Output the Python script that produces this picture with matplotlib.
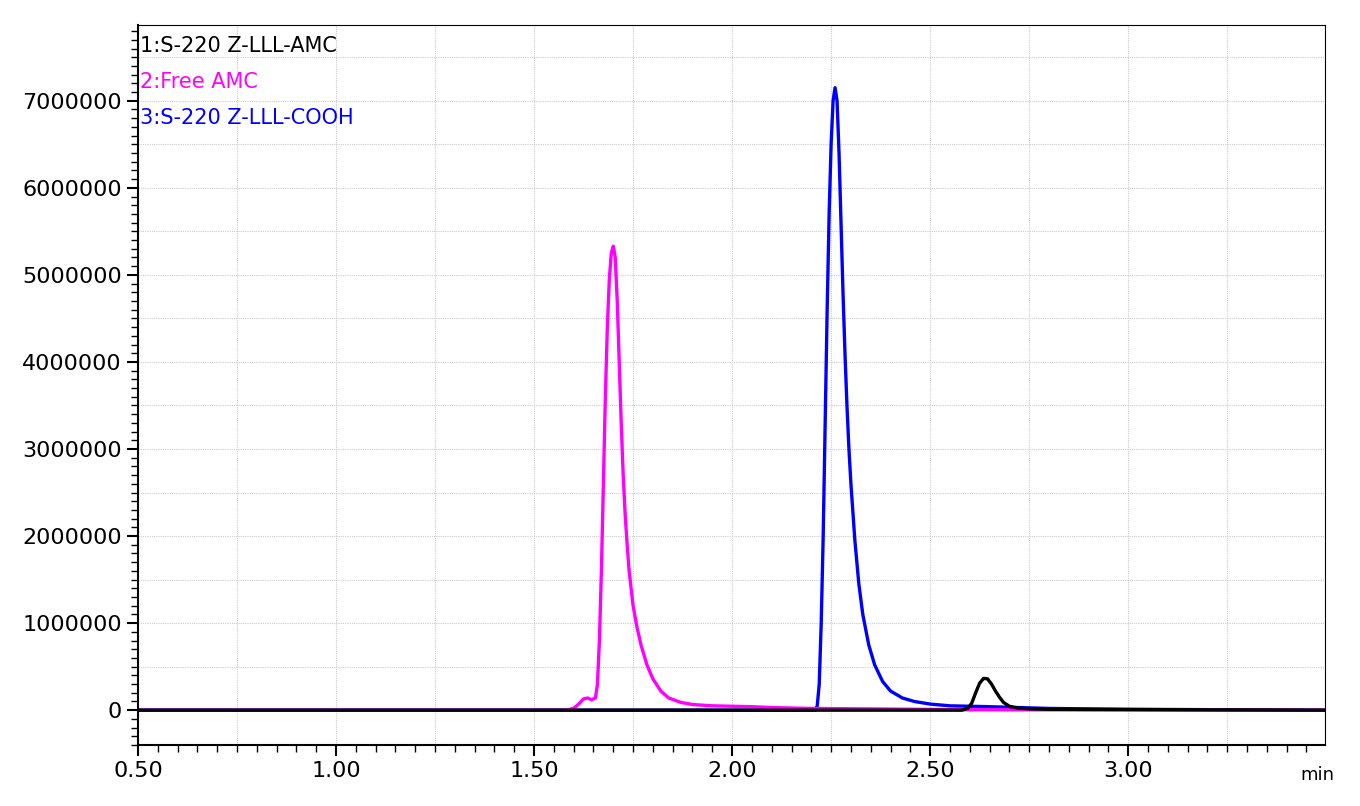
import matplotlib
matplotlib.use("Agg")
import matplotlib.pyplot as plt
from matplotlib.ticker import MultipleLocator, FuncFormatter

plt.rcParams['font.family'] = ['DejaVu Sans']

t_amc = [0.5, 1.58, 1.60, 1.615, 1.625, 1.635, 1.645, 1.655, 1.66, 1.665, 1.67, 1.675, 1.68, 1.685, 1.69, 1.695, 1.70, 1.705, 1.71, 1.715, 1.72, 1.725, 1.73, 1.735, 1.74, 1.75, 1.76, 1.77, 1.785, 1.80, 1.82, 1.84, 1.87, 1.90, 1.95, 2.0, 2.05, 2.1, 2.2, 2.6, 3.5]
y_amc = [0, 0, 0.02, 0.08, 0.13, 0.14, 0.12, 0.14, 0.3, 0.8, 1.6, 2.6, 3.6, 4.4, 4.95, 5.25, 5.33, 5.2, 4.7, 4.0, 3.3, 2.7, 2.25, 1.9, 1.6, 1.2, 0.95, 0.75, 0.52, 0.36, 0.22, 0.14, 0.09, 0.065, 0.05, 0.045, 0.04, 0.03, 0.02, 0.005, 0]

t_cooh = [0.5, 2.21, 2.215, 2.22, 2.225, 2.23, 2.235, 2.24, 2.245, 2.25, 2.255, 2.26, 2.265, 2.27, 2.275, 2.28, 2.285, 2.29, 2.295, 2.30, 2.31, 2.32, 2.33, 2.345, 2.36, 2.38, 2.40, 2.43, 2.46, 2.50, 2.55, 2.65, 2.8, 3.0, 3.5]
y_cooh = [0, 0, 0.05, 0.3, 1.0, 2.0, 3.3, 4.6, 5.7, 6.5, 7.0, 7.15, 7.0, 6.4, 5.6, 4.8, 4.1, 3.5, 3.0, 2.6, 1.95, 1.45, 1.1, 0.75, 0.52, 0.33, 0.22, 0.14, 0.1, 0.07, 0.05, 0.04, 0.02, 0.01, 0]

t_lll = [0.5, 2.58, 2.595, 2.605, 2.615, 2.625, 2.635, 2.645, 2.655, 2.665, 2.675, 2.685, 2.70, 2.72, 2.75, 2.8, 3.5]
y_lll = [0, 0, 0.02, 0.08, 0.2, 0.31, 0.365, 0.36, 0.3, 0.22, 0.15, 0.09, 0.045, 0.025, 0.015, 0.01, 0]

labels = ["1:S-220 Z-LLL-AMC", "2:Free AMC", "3:S-220 Z-LLL-COOH"]
colors = ["black", "#ff00ff", "#0000ff"]

fig = plt.figure(figsize=(13.6, 8.06), dpi=100)
ax = fig.add_axes([138/1360, 1-745/806, (1325-138)/1360, (745-25)/806])

ax.plot(t_cooh, [v*1e6 for v in y_cooh], color=colors[2], lw=2.4)
ax.plot(t_amc, [v*1e6 for v in y_amc], color=colors[1], lw=2.4)
ax.plot(t_lll, [v*1e6 for v in y_lll], color=colors[0], lw=2.4)

ax.set_xlim(0.5, 3.497)
ax.set_ylim(-0.4e6, 7.87e6)
ax.xaxis.set_major_locator(MultipleLocator(0.5))
ax.xaxis.set_minor_locator(MultipleLocator(0.05))
ax.yaxis.set_major_locator(MultipleLocator(1e6))
ax.yaxis.set_minor_locator(MultipleLocator(1e5))
ax.xaxis.set_major_formatter(FuncFormatter(lambda v, p: f"{v:.2f}"))
ax.yaxis.set_major_formatter(FuncFormatter(lambda v, p: f"{int(round(v))}"))
ax.tick_params(labelsize=16, direction='out')
ax.tick_params(which='major', length=8, width=1.5)
ax.tick_params(which='minor', length=5, width=1)

for x in [0.75 + 0.25*i for i in range(12)]:
    ax.axvline(x, color='#cccccc', lw=0.8, ls=(0, (1, 1)), zorder=0)
for y in [0.5e6*i for i in range(-1, 16)]:
    ax.axhline(y, color='#cccccc', lw=0.8, ls=(0, (1, 1)), zorder=0)

for s in ['left', 'bottom']:
    ax.spines[s].set_linewidth(1.5)
for s in ['top', 'right']:
    ax.spines[s].set_linewidth(0.8)

for i, (lab, c) in enumerate(zip(labels, colors)):
    ax.text(0.002, 0.985 - i*0.05, lab, color=c, fontsize=15, transform=ax.transAxes, va='top', ha='left')

fig.text(1300/1360, 1-775/806, "min", fontsize=13, va='center')

fig.savefig("out.png", dpi=100)
